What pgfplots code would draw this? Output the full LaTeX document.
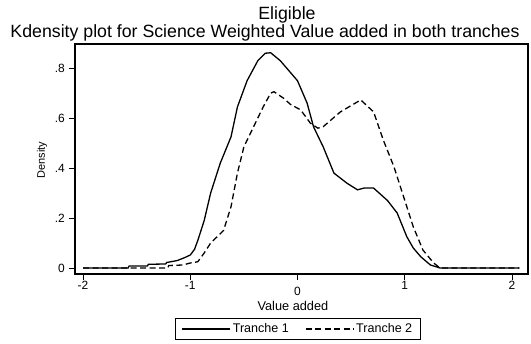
\documentclass[border=0pt]{standalone}
\usepackage{fontspec}
\setmainfont{Liberation Sans}
\usepackage{pgfplots}
\pgfplotsset{compat=1.18}
\begin{document}
\begin{tikzpicture}
\useasboundingbox (0bp,0bp) rectangle (531bp,344bp);
\node[font=\fontsize{17.8}{20}\selectfont, anchor=base, inner sep=0pt] at (287bp,324bp) {Eligible};
\node[font=\fontsize{17.8}{20}\selectfont, anchor=base, inner sep=0pt] at (265bp,306.7bp) {Kdensity plot for Science Weighted Value added in both tranches};
\begin{axis}[
  at={(75bp,70bp)}, anchor=south west, scale only axis,
  width=453bp, height=230bp,
  xmin=-2.075, xmax=2.15, ymin=-0.024, ymax=0.897,
  axis line style={line width=1.6bp},
  xtick={-2,-1,1,2},
  xticklabels={-2,-1,1,2},
  extra x ticks={0},
  extra x tick labels={0},
  extra x tick style={xticklabel style={yshift=-6bp}},
  ytick={0,0.2,0.4,0.6,0.8},
  yticklabels={0,.2,.4,.6,.8},
  tick align=outside, major tick length=6bp,
  tick style={line width=0.8bp, black},
  xtick pos=bottom, ytick pos=left,
  /pgf/number format/assume math mode=true,
  ticklabel style={font=\fontsize{12}{14}\selectfont},
  xticklabel style={inner sep=1bp},
  yticklabel style={inner sep=4bp},
  xlabel={Value added},
  xlabel style={font=\fontsize{12.8}{15}\selectfont, at={(axis description cs:0.481,-0.157)}, anchor=base, inner sep=0pt},
  ylabel={Density},
  ylabel style={font=\fontsize{11}{13}\selectfont, at={(axis description cs:-0.073,0.496)}, anchor=center},
  legend columns=2,
  legend style={at={(axis description cs:0.492,-0.239)}, anchor=center, draw=black, line width=1bp,
    font=\fontsize{12.6}{14}\selectfont, inner xsep=6bp, inner ysep=3bp,
    /tikz/every even column/.append style={column sep=14bp}},
  legend image code/.code={\draw[#1, line width=1.3bp] (0bp,0bp) -- (48bp,0bp);},
]
\addplot[black, line width=1.3bp] coordinates {
(-2.0,0) (-1.58,0) (-1.57,0.008) (-1.40,0.008) (-1.39,0.015) (-1.23,0.016) (-1.22,0.022)
(-1.12,0.03) (-1.05,0.042) (-1.0,0.052) (-0.96,0.075) (-0.93,0.11) (-0.87,0.19) (-0.81,0.30)
(-0.72,0.42) (-0.62,0.525) (-0.56,0.645) (-0.47,0.75) (-0.37,0.83) (-0.30,0.86) (-0.25,0.862)
(-0.16,0.83) (-0.08,0.79) (0.0,0.75) (0.09,0.66) (0.15,0.565) (0.24,0.485) (0.34,0.38)
(0.46,0.34) (0.56,0.313) (0.62,0.32) (0.71,0.32) (0.84,0.27) (0.93,0.22) (1.02,0.125)
(1.08,0.08) (1.15,0.045) (1.24,0.012) (1.33,0) (2.07,0)
};
\addlegendentry{Tranche 1}
\addplot[black, line width=1.3bp, dash pattern=on 6bp off 3.5bp] coordinates {
(-2.0,0) (-1.21,0) (-1.20,0.01) (-1.07,0.012) (-1.0,0.02) (-0.93,0.025) (-0.87,0.06)
(-0.81,0.10) (-0.69,0.15) (-0.62,0.245) (-0.56,0.38) (-0.50,0.485) (-0.41,0.565)
(-0.32,0.645) (-0.25,0.70) (-0.22,0.706) (-0.13,0.68) (-0.065,0.655) (0.03,0.633)
(0.12,0.58) (0.19,0.56) (0.24,0.566) (0.40,0.625) (0.59,0.673) (0.71,0.625) (0.80,0.513)
(0.90,0.405) (0.99,0.285) (1.08,0.165) (1.17,0.072) (1.27,0.02) (1.33,0) (2.07,0)
};
\addlegendentry{Tranche 2}
\end{axis}
\end{tikzpicture}
\end{document}
